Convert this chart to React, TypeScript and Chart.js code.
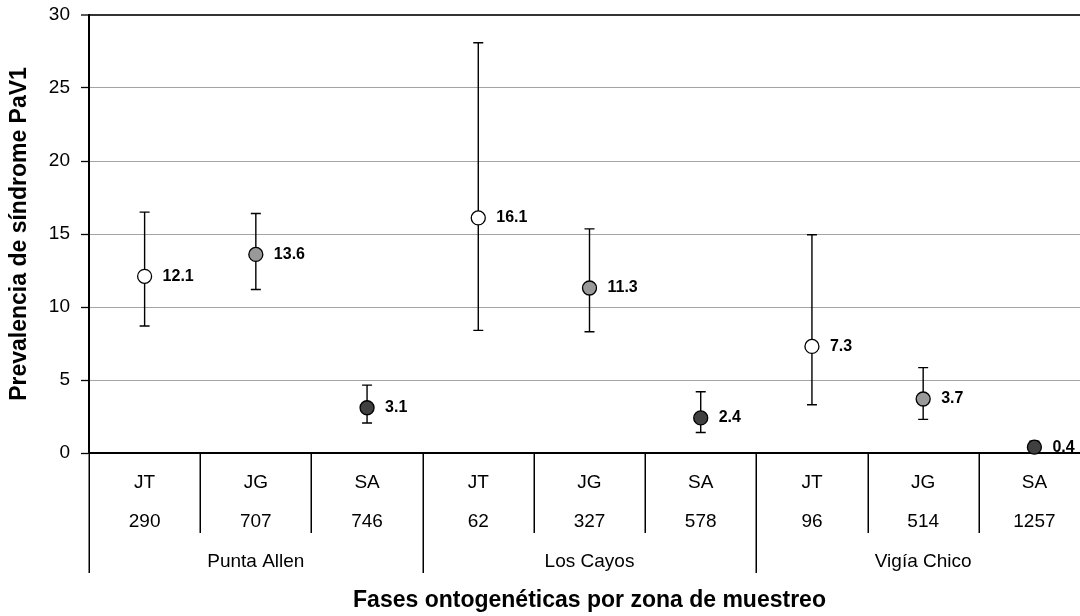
import { useEffect, useRef } from "react";
import { Chart, registerables } from "chart.js";

Chart.register(...registerables);

// Ontogenetic phase and sample size per category, grouped by sampling zone
const phases = ["JT", "JG", "SA", "JT", "JG", "SA", "JT", "JG", "SA"];
const sampleSizes = ["290", "707", "746", "62", "327", "578", "96", "514", "1257"];
const zones = ["Punta Allen", "Los Cayos", "Vigía Chico"];

// Prevalence of PaV1 syndrome (%) and its interval limits
const prevalence = [12.1, 13.6, 3.1, 16.1, 11.3, 2.4, 7.3, 3.7, 0.4];
const ciLower = [8.7, 11.2, 2.05, 8.4, 8.3, 1.4, 3.3, 2.3, 0.1];
const ciUpper = [16.5, 16.4, 4.65, 28.1, 15.35, 4.2, 14.95, 5.85, 0.8];

const yTicks = [0, 5, 10, 15, 20, 25, 30];

const phaseFill: Record<string, string> = {
  JT: "#ffffff",
  JG: "#999999",
  SA: "#404040",
};

const FONT = "'Liberation Sans', Arial, sans-serif";

// Vertical interval bars with caps, drawn under the markers
const errorBars = {
  id: "errorBars",
  beforeDatasetsDraw(chart: any) {
    const { ctx } = chart;
    const xs = chart.scales.x;
    const ys = chart.scales.y;
    ctx.save();
    ctx.strokeStyle = "#000";
    ctx.lineWidth = 1.4;
    prevalence.forEach((_, i) => {
      const x = xs.getPixelForValue(i);
      const yl = ys.getPixelForValue(ciLower[i]);
      const yu = ys.getPixelForValue(ciUpper[i]);
      ctx.beginPath();
      ctx.moveTo(x, yl);
      ctx.lineTo(x, yu);
      ctx.moveTo(x - 5, yl);
      ctx.lineTo(x + 5, yl);
      ctx.moveTo(x - 5, yu);
      ctx.lineTo(x + 5, yu);
      ctx.stroke();
    });
    ctx.restore();
  },
};

// Value labels to the right of each marker
const valueLabels = {
  id: "valueLabels",
  afterDatasetsDraw(chart: any) {
    const { ctx } = chart;
    const meta = chart.getDatasetMeta(0);
    ctx.save();
    ctx.font = `bold 16px ${FONT}`;
    ctx.fillStyle = "#000";
    ctx.textAlign = "left";
    ctx.textBaseline = "middle";
    meta.data.forEach((pt: any, i: number) => {
      ctx.fillText(prevalence[i].toFixed(1), pt.x + 18, pt.y);
    });
    ctx.restore();
  },
};

// Two-level category axis: phase / sample size, then zone
const groupedAxis = {
  id: "groupedAxis",
  afterDraw(chart: any) {
    const { ctx, chartArea } = chart;
    const xs = chart.scales.x;
    const half = (xs.getPixelForValue(1) - xs.getPixelForValue(0)) / 2;
    const base = chartArea.bottom;
    ctx.save();
    ctx.strokeStyle = "#000";
    ctx.lineWidth = 1.5;
    for (let k = 0; k <= phases.length; k++) {
      const bx = Math.round(xs.getPixelForValue(0) - half + k * 2 * half) + 0.25;
      const end = k % 3 === 0 ? base + 120 : base + 80;
      ctx.beginPath();
      ctx.moveTo(bx, base);
      ctx.lineTo(bx, end);
      ctx.stroke();
    }
    ctx.fillStyle = "#000";
    ctx.font = `19px ${FONT}`;
    ctx.textAlign = "center";
    ctx.textBaseline = "middle";
    phases.forEach((p, i) => {
      const x = xs.getPixelForValue(i);
      ctx.fillText(p, x, base + 30);
      ctx.fillText(sampleSizes[i], x, base + 69);
    });
    zones.forEach((z, g) => {
      const x = xs.getPixelForValue(g * 3 + 1);
      ctx.fillText(z, x, base + 109);
    });
    ctx.restore();
  },
};

export default function App() {
  const canvasRef = useRef<HTMLCanvasElement | null>(null);

  useEffect(() => {
    if (!canvasRef.current) return;
    const chart = new Chart(canvasRef.current, {
      type: "line",
      data: {
        labels: phases.map((p, i) => `${p} ${sampleSizes[i]}`),
        datasets: [
          {
            data: prevalence,
            showLine: false,
            pointRadius: 7,
            pointHoverRadius: 7,
            pointBackgroundColor: phases.map((p) => phaseFill[p]),
            pointBorderColor: "#000",
            pointBorderWidth: 1.3,
            clip: false as any,
          },
        ],
      },
      options: {
        responsive: false,
        animation: false,
        devicePixelRatio: 1,
        layout: { padding: { top: 15, right: 10, left: 0, bottom: 0 } },
        plugins: {
          legend: { display: false },
          tooltip: { enabled: false },
        },
        scales: {
          x: {
            type: "category",
            offset: true,
            ticks: { display: false },
            grid: { display: true, drawOnChartArea: false, drawTicks: false },
            border: { display: true, color: "#000", width: 2 },
            title: {
              display: true,
              text: "Fases ontogenéticas por zona de muestreo",
              color: "#000",
              font: { family: FONT, size: 23, weight: "bold" },
              padding: { top: 0, bottom: 2 },
            },
            afterFit(scale: any) {
              scale.height = 163;
            },
          },
          y: {
            min: 0,
            max: 30,
            afterBuildTicks(scale: any) {
              scale.ticks = yTicks.map((v) => ({ value: v }));
            },
            ticks: {
              color: "#000",
              padding: 11,
              font: { family: FONT, size: 19 },
            },
            grid: {
              color: (c: any) =>
                c.tick && c.tick.value === 30 ? "#333" : c.tick && c.tick.value === 0 ? "#000" : "#a4a4a4",
              lineWidth: (c: any) => (c.tick && c.tick.value === 30 ? 2 : 1),
              tickColor: "#000",
              tickLength: 8,
              tickWidth: 1.3,
            },
            border: { display: true, color: "#000", width: 2 },
            title: {
              display: true,
              text: "Prevalencia de síndrome PaV1",
              color: "#000",
              font: { family: FONT, size: 23, weight: "bold" },
              padding: { top: 6, bottom: 0 },
            },
            afterFit(scale: any) {
              scale.width = 89;
              scale.paddingTop = 0;
              scale.paddingBottom = 0;
            },
          },
        },
      },
      plugins: [errorBars, valueLabels, groupedAxis],
    });
    return () => chart.destroy();
  }, []);

  return (
    <div
      style={{
        position: "fixed",
        left: 0,
        top: 0,
        width: 1080,
        height: 616,
        overflow: "hidden",
        background: "#fff",
      }}
    >
      <canvas ref={canvasRef} width={1100} height={616} style={{ width: 1100, height: 616, display: "block" }} />
    </div>
  );
}
